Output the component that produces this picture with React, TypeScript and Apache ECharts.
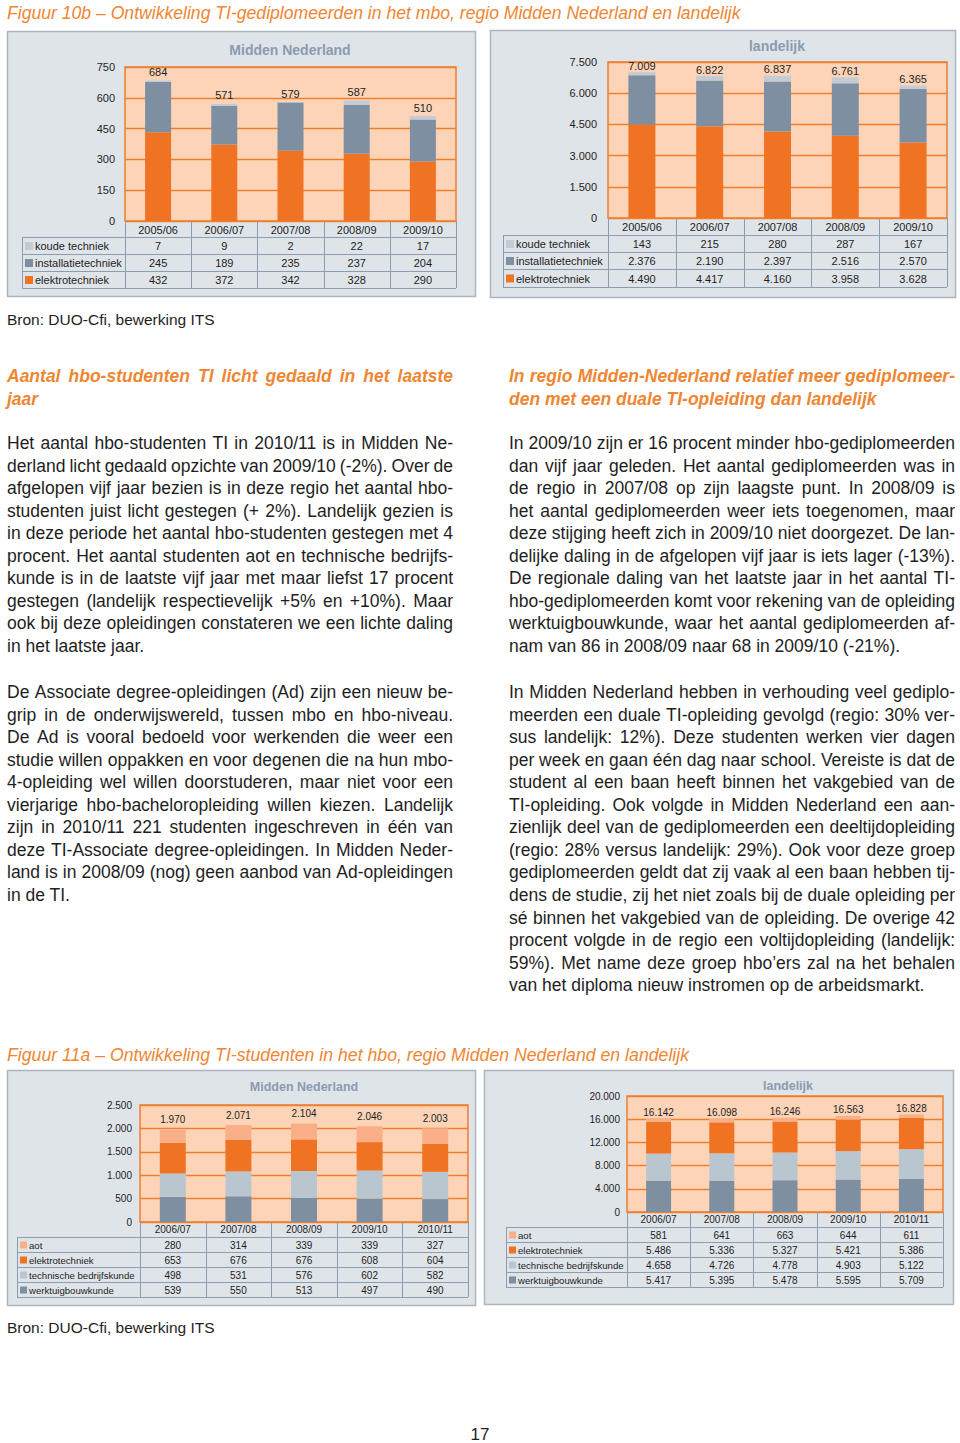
import React, { useEffect, useRef } from "react";
import * as echarts from "echarts";

// ---------- data ----------
const years10 = ["2005/06", "2006/07", "2007/08", "2008/09", "2009/10"];
const mnKoude = [7, 9, 2, 22, 17];
const mnInstall = [245, 189, 235, 237, 204];
const mnElektro = [432, 372, 342, 328, 290];
const mnTotal10 = [684, 571, 579, 587, 510];
const nlKoude = [143, 215, 280, 287, 167];
const nlInstall = [2376, 2190, 2397, 2516, 2570];
const nlElektro = [4490, 4417, 4160, 3958, 3628];
const nlTotal10 = [7009, 6822, 6837, 6761, 6365];

const years11 = ["2006/07", "2007/08", "2008/09", "2009/10", "2010/11"];
const mnAot = [280, 314, 339, 339, 327];
const mnElek11 = [653, 676, 676, 608, 604];
const mnTbk = [498, 531, 576, 602, 582];
const mnWtb = [539, 550, 513, 497, 490];
const mnTotal11 = [1970, 2071, 2104, 2046, 2003];
const nlAot = [581, 641, 663, 644, 611];
const nlElek11 = [5486, 5336, 5327, 5421, 5386];
const nlTbk = [4658, 4726, 4778, 4903, 5122];
const nlWtb = [5417, 5395, 5478, 5595, 5709];
const nlTotal11 = [16142, 16098, 16246, 16563, 16828];

const ticks10mn = { max: 750, interval: 150 };
const ticks10nl = { max: 7500, interval: 1500 };
const ticks11mn = { max: 2500, interval: 500 };
const ticks11nl = { max: 20000, interval: 4000 };

// ---------- texts ----------
const fig10Title = "Figuur 10b – Ontwikkeling TI-gediplomeerden in het mbo, regio Midden Nederland en landelijk";
const fig11Title = "Figuur 11a – Ontwikkeling TI-studenten in het hbo, regio Midden Nederland en landelijk";
const bron = "Bron: DUO-Cfi, bewerking ITS";

const leftHeading = ["Aantal hbo-studenten TI licht gedaald in het laatste", "jaar"];
const leftP1 = [
  "Het aantal hbo-studenten TI in 2010/11 is in Midden Ne-",
  "derland licht gedaald opzichte van 2009/10 (-2%). Over de",
  "afgelopen vijf jaar bezien is in deze regio het aantal hbo-",
  "studenten juist licht gestegen (+ 2%). Landelijk gezien is",
  "in deze periode het aantal hbo-studenten gestegen met 4",
  "procent. Het aantal studenten aot en technische bedrijfs-",
  "kunde is in de laatste vijf jaar met maar liefst 17 procent",
  "gestegen (landelijk respectievelijk +5% en +10%). Maar",
  "ook bij deze opleidingen constateren we een lichte daling",
  "in het laatste jaar.",
];
const leftP2 = [
  "De Associate degree-opleidingen (Ad) zijn een nieuw be-",
  "grip in de onderwijswereld, tussen mbo en hbo-niveau.",
  "De Ad is vooral bedoeld voor werkenden die weer een",
  "studie willen oppakken en voor degenen die na hun mbo-",
  "4-opleiding wel willen doorstuderen, maar niet voor een",
  "vierjarige hbo-bacheloropleiding willen kiezen. Landelijk",
  "zijn in 2010/11 221 studenten ingeschreven in één van",
  "deze TI-Associate degree-opleidingen. In Midden Neder-",
  "land is in 2008/09 (nog) geen aanbod van Ad-opleidingen",
  "in de TI.",
];
const rightHeading = ["In regio Midden-Nederland relatief meer gediplomeer-", "den met een duale TI-opleiding dan landelijk"];
const rightP1 = [
  "In 2009/10 zijn er 16 procent minder hbo-gediplomeerden",
  "dan vijf jaar geleden. Het aantal gediplomeerden was in",
  "de regio in 2007/08 op zijn laagste punt. In 2008/09 is",
  "het aantal gediplomeerden weer iets toegenomen, maar",
  "deze stijging heeft zich in 2009/10 niet doorgezet. De lan-",
  "delijke daling in de afgelopen vijf jaar is iets lager (-13%).",
  "De regionale daling van het laatste jaar in het aantal TI-",
  "hbo-gediplomeerden komt voor rekening van de opleiding",
  "werktuigbouwkunde, waar het aantal gediplomeerden af-",
  "nam van 86 in 2008/09 naar 68 in 2009/10 (-21%).",
];
const rightP2 = [
  "In Midden Nederland hebben in verhouding veel gediplo-",
  "meerden een duale TI-opleiding gevolgd (regio: 30% ver-",
  "sus landelijk: 12%). Deze studenten werken vier dagen",
  "per week en gaan één dag naar school. Vereiste is dat de",
  "student al een baan heeft binnen het vakgebied van de",
  "TI-opleiding. Ook volgde in Midden Nederland een aan-",
  "zienlijk deel van de gediplomeerden een deeltijdopleiding",
  "(regio: 28% versus landelijk: 29%). Ook voor deze groep",
  "gediplomeerden geldt dat zij vaak al een baan hebben tij-",
  "dens de studie, zij het niet zoals bij de duale opleiding per",
  "sé binnen het vakgebied van de opleiding. De overige 42",
  "procent volgde in de regio een voltijdopleiding (landelijk:",
  "59%). Met name deze groep hbo’ers zal na het behalen",
  "van het diploma nieuw instromen op de arbeidsmarkt.",
];

// ---------- styles ----------
const FF = "'Liberation Sans', Arial, Helvetica, sans-serif";
const C = {
  elek: "#f07323",
  inst: "#7d8fa1",
  koude: "#c3ccd4",
  tbk: "#b9c6d0",
  wtb: "#7d8fa1",
  aot: "#f9b088",
  peach: "#fdd4b7",
  orange: "#ee7f30",
  panelBg: "#dfe4e9",
  panelBorder: "#aab5c0",
  tableLine: "#8d9db0",
  title: "#8b9bb0",
  text: "#1e1e1e",
  head: "#ef8632",
};

const fmt = (v: number) => String(v).replace(/\B(?=(\d{3})+(?!\d))/g, ".");

type S = { name: string; data: number[]; color: string };
const panels = [
  {
    box: { x: 7, y: 31, w: 468, h: 265 },
    title: "Midden Nederland", tx: 290, ty: 50, tsize: 14,
    grid: { left: 125, top: 67, width: 331, height: 154 },
    ticks: ticks10mn, cats: years10, totals: mnTotal10,
    series: [
      { name: "elektrotechniek", data: mnElektro, color: C.elek },
      { name: "installatietechniek", data: mnInstall, color: C.inst },
      { name: "koude techniek", data: mnKoude, color: C.koude },
    ] as S[],
    rows: [237, 254, 271, 288], legendLeft: 22,
    barWidth: 26, yMargin: 10, xMargin: 3, fs: 11, lfs: 11, labelDist: 3, mk: 8,
  },
  {
    box: { x: 490, y: 30, w: 465, h: 267 },
    title: "landelijk", tx: 777, ty: 46, tsize: 14,
    grid: { left: 608, top: 62, width: 339, height: 156 },
    ticks: ticks10nl, cats: years10, totals: nlTotal10,
    series: [
      { name: "elektrotechniek", data: nlElektro, color: C.elek },
      { name: "installatietechniek", data: nlInstall, color: C.inst },
      { name: "koude techniek", data: nlKoude, color: C.koude },
    ] as S[],
    rows: [235, 252, 269, 287], legendLeft: 503,
    barWidth: 27, yMargin: 11, xMargin: 3, fs: 11, lfs: 11, labelDist: 1, mk: 8,
  },
  {
    box: { x: 7, y: 1070, w: 468, h: 235 },
    title: "Midden Nederland", tx: 304, ty: 1087, tsize: 12.5,
    grid: { left: 140, top: 1105, width: 328, height: 117 },
    ticks: ticks11mn, cats: years11, totals: mnTotal11,
    series: [
      { name: "werktuigbouwkunde", data: mnWtb, color: C.wtb },
      { name: "technische bedrijfskunde", data: mnTbk, color: C.tbk },
      { name: "elektrotechniek", data: mnElek11, color: C.elek },
      { name: "aot", data: mnAot, color: C.aot },
    ] as S[],
    rows: [1237, 1252, 1267, 1282, 1297], legendLeft: 17,
    barWidth: 26, yMargin: 8, xMargin: 2, fs: 10, lfs: 9.6, labelDist: 5, mk: 7,
  },
  {
    box: { x: 484, y: 1070, w: 469, h: 234 },
    title: "landelijk", tx: 788, ty: 1086, tsize: 12.5,
    grid: { left: 627, top: 1096, width: 316, height: 116 },
    ticks: ticks11nl, cats: years11, totals: nlTotal11,
    series: [
      { name: "werktuigbouwkunde", data: nlWtb, color: C.wtb },
      { name: "technische bedrijfskunde", data: nlTbk, color: C.tbk },
      { name: "elektrotechniek", data: nlElek11, color: C.elek },
      { name: "aot", data: nlAot, color: C.aot },
    ] as S[],
    rows: [1227, 1242, 1257, 1272, 1287], legendLeft: 506,
    barWidth: 25, yMargin: 7, xMargin: 2, fs: 10, lfs: 9.6, labelDist: 1, mk: 7,
  },
];

function txt(text: string, x: number, y: number, font: string, fill: string, align = "left", z = 20) {
  return {
    type: "text",
    x, y, z, silent: true,
    style: { text, font, fill, textAlign: align, align, textVerticalAlign: "middle", verticalAlign: "middle" },
  };
}
function hline(x1: number, x2: number, y: number, color: string, z = 15) {
  return { type: "line", z, silent: true, shape: { x1, y1: y, x2, y2: y }, style: { stroke: color, lineWidth: 1 } };
}
function vline(x: number, y1: number, y2: number, color: string, z = 15) {
  return { type: "line", z, silent: true, shape: { x1: x, y1, x2: x, y2 }, style: { stroke: color, lineWidth: 1 } };
}

let measureCtx: CanvasRenderingContext2D | null = null;
function measure(text: string, font: string) {
  if (!measureCtx) measureCtx = document.createElement("canvas").getContext("2d");
  if (!measureCtx) return text.length * 8;
  measureCtx.font = font;
  return measureCtx.measureText(text).width;
}

function buildOption() {
  const grid: any[] = [];
  const xAxis: any[] = [];
  const yAxis: any[] = [];
  const series: any[] = [];
  const elements: any[] = [];

  panels.forEach((p, i) => {
    grid.push({
      left: p.grid.left, top: p.grid.top, width: p.grid.width, height: p.grid.height,
      show: true, backgroundColor: C.peach, borderColor: C.orange, borderWidth: 1.5,
    });
    xAxis.push({
      type: "category", gridIndex: i, data: p.cats,
      axisLine: { show: false }, axisTick: { show: false }, splitLine: { show: false },
      axisLabel: { interval: 0, margin: p.xMargin, fontSize: p.fs, color: C.text, fontFamily: FF },
    });
    yAxis.push({
      type: "value", gridIndex: i, min: 0, max: p.ticks.max, interval: p.ticks.interval,
      axisLine: { show: false }, axisTick: { show: false },
      axisLabel: { margin: p.yMargin, fontSize: p.fs, color: C.text, fontFamily: FF, formatter: (v: number) => fmt(v) },
      splitLine: { show: true, lineStyle: { color: C.orange, width: 1.3 } },
    });
    p.series.forEach((s, k) => {
      const isTop = k === p.series.length - 1;
      series.push({
        type: "bar", name: s.name, xAxisIndex: i, yAxisIndex: i, stack: "st" + i,
        data: s.data, barWidth: p.barWidth, silent: true,
        itemStyle: { color: s.color },
        label: isTop
          ? {
              show: true, position: "top", distance: p.labelDist, fontSize: p.fs, color: C.text, fontFamily: FF,
              formatter: (pa: any) => fmt(p.totals[pa.dataIndex]),
            }
          : { show: false },
      });
    });

    // panel box
    elements.push({
      type: "rect", z: -10, silent: true,
      shape: { x: p.box.x + 0.5, y: p.box.y + 0.5, width: p.box.w, height: p.box.h },
      style: { fill: C.panelBg, stroke: C.panelBorder, lineWidth: 1.5 },
    });
    elements.push(txt(p.title, p.tx, p.ty, `bold ${p.tsize}px ${FF}`, C.title, "center"));

    // table
    const gl = p.grid.left, gr = p.grid.left + p.grid.width, gb = p.grid.top + p.grid.height;
    const last = p.rows[p.rows.length - 1];
    const colW = p.grid.width / p.cats.length;
    p.rows.forEach((ry) => elements.push(hline(p.legendLeft, gr, ry + 0.5, C.tableLine)));
    elements.push(vline(p.legendLeft + 0.5, p.rows[0], last, C.tableLine));
    for (let j = 0; j <= p.cats.length; j++) {
      elements.push(vline(Math.round(gl + j * colW) + 0.5, gb, last, C.tableLine));
    }
    const n = p.series.length;
    for (let r = 0; r < n; r++) {
      const s = p.series[n - 1 - r];
      const cy = (p.rows[r] + p.rows[r + 1]) / 2 + 0.5;
      elements.push({
        type: "rect", z: 16, silent: true,
        shape: { x: p.legendLeft + 3, y: cy - p.mk / 2, width: p.mk, height: p.mk },
        style: { fill: s.color },
      });
      elements.push(txt(s.name, p.legendLeft + 5 + p.mk, cy, `${p.lfs}px ${FF}`, C.text));
      s.data.forEach((v, j) => {
        elements.push(txt(fmt(v), gl + (j + 0.5) * colW, cy, `${p.fs}px ${FF}`, C.text, "center"));
      });
    }
  });

  // page texts
  elements.push(txt(fig10Title, 7, 13, `italic 17.6px ${FF}`, C.head));
  elements.push(txt(fig11Title, 7, 1055, `italic 17.7px ${FF}`, C.head));
  elements.push(txt(bron, 7, 319, `15.5px ${FF}`, C.text));
  elements.push(txt(bron, 7, 1327, `15.5px ${FF}`, C.text));
  elements.push(txt("17", 480, 1434, `17px ${FF}`, C.text, "center"));

  const step = 22.56;
  const colW = 446;
  const headFont = `italic bold 17.5px ${FF}`;
  const bodyFont = `17.5px ${FF}`;
  const block = (lines: string[], x: number, y0: number, font: string, fill: string) =>
    lines.forEach((l, k) => {
      const y = y0 + k * step;
      const isLast = k === lines.length - 1;
      const words = l.split(" ");
      if (isLast || words.length < 2) {
        elements.push(txt(l, x, y, font, fill));
        return;
      }
      const widths = words.map((w) => measure(w, font));
      const total = widths.reduce((a, b) => a + b, 0);
      const gap = Math.max(2, (colW - total) / (words.length - 1));
      let cx = x;
      words.forEach((w, wi) => {
        elements.push(txt(w, cx, y, font, fill));
        cx += widths[wi] + gap;
      });
    });
  block(leftHeading, 7, 376, headFont, C.head);
  block(rightHeading, 509, 376, headFont, C.head);
  block(leftP1, 7, 443, bodyFont, C.text);
  block(leftP2, 7, 692, bodyFont, C.text);
  block(rightP1, 509, 443, bodyFont, C.text);
  block(rightP2, 509, 692, bodyFont, C.text);

  return {
    animation: false,
    backgroundColor: "#ffffff",
    textStyle: { fontFamily: FF },
    grid, xAxis, yAxis, series,
    graphic: { elements },
  };
}

export default function App() {
  const ref = useRef<HTMLDivElement>(null);
  useEffect(() => {
    if (!ref.current) return;
    const chart = echarts.init(ref.current, null, { renderer: "svg", width: 960, height: 1443 });
    chart.setOption(buildOption() as any);
    return () => chart.dispose();
  }, []);
  return (
    <div
      ref={ref}
      style={{ position: "absolute", left: 0, top: 0, width: 960, height: 1443, background: "#fff" }}
    />
  );
}
